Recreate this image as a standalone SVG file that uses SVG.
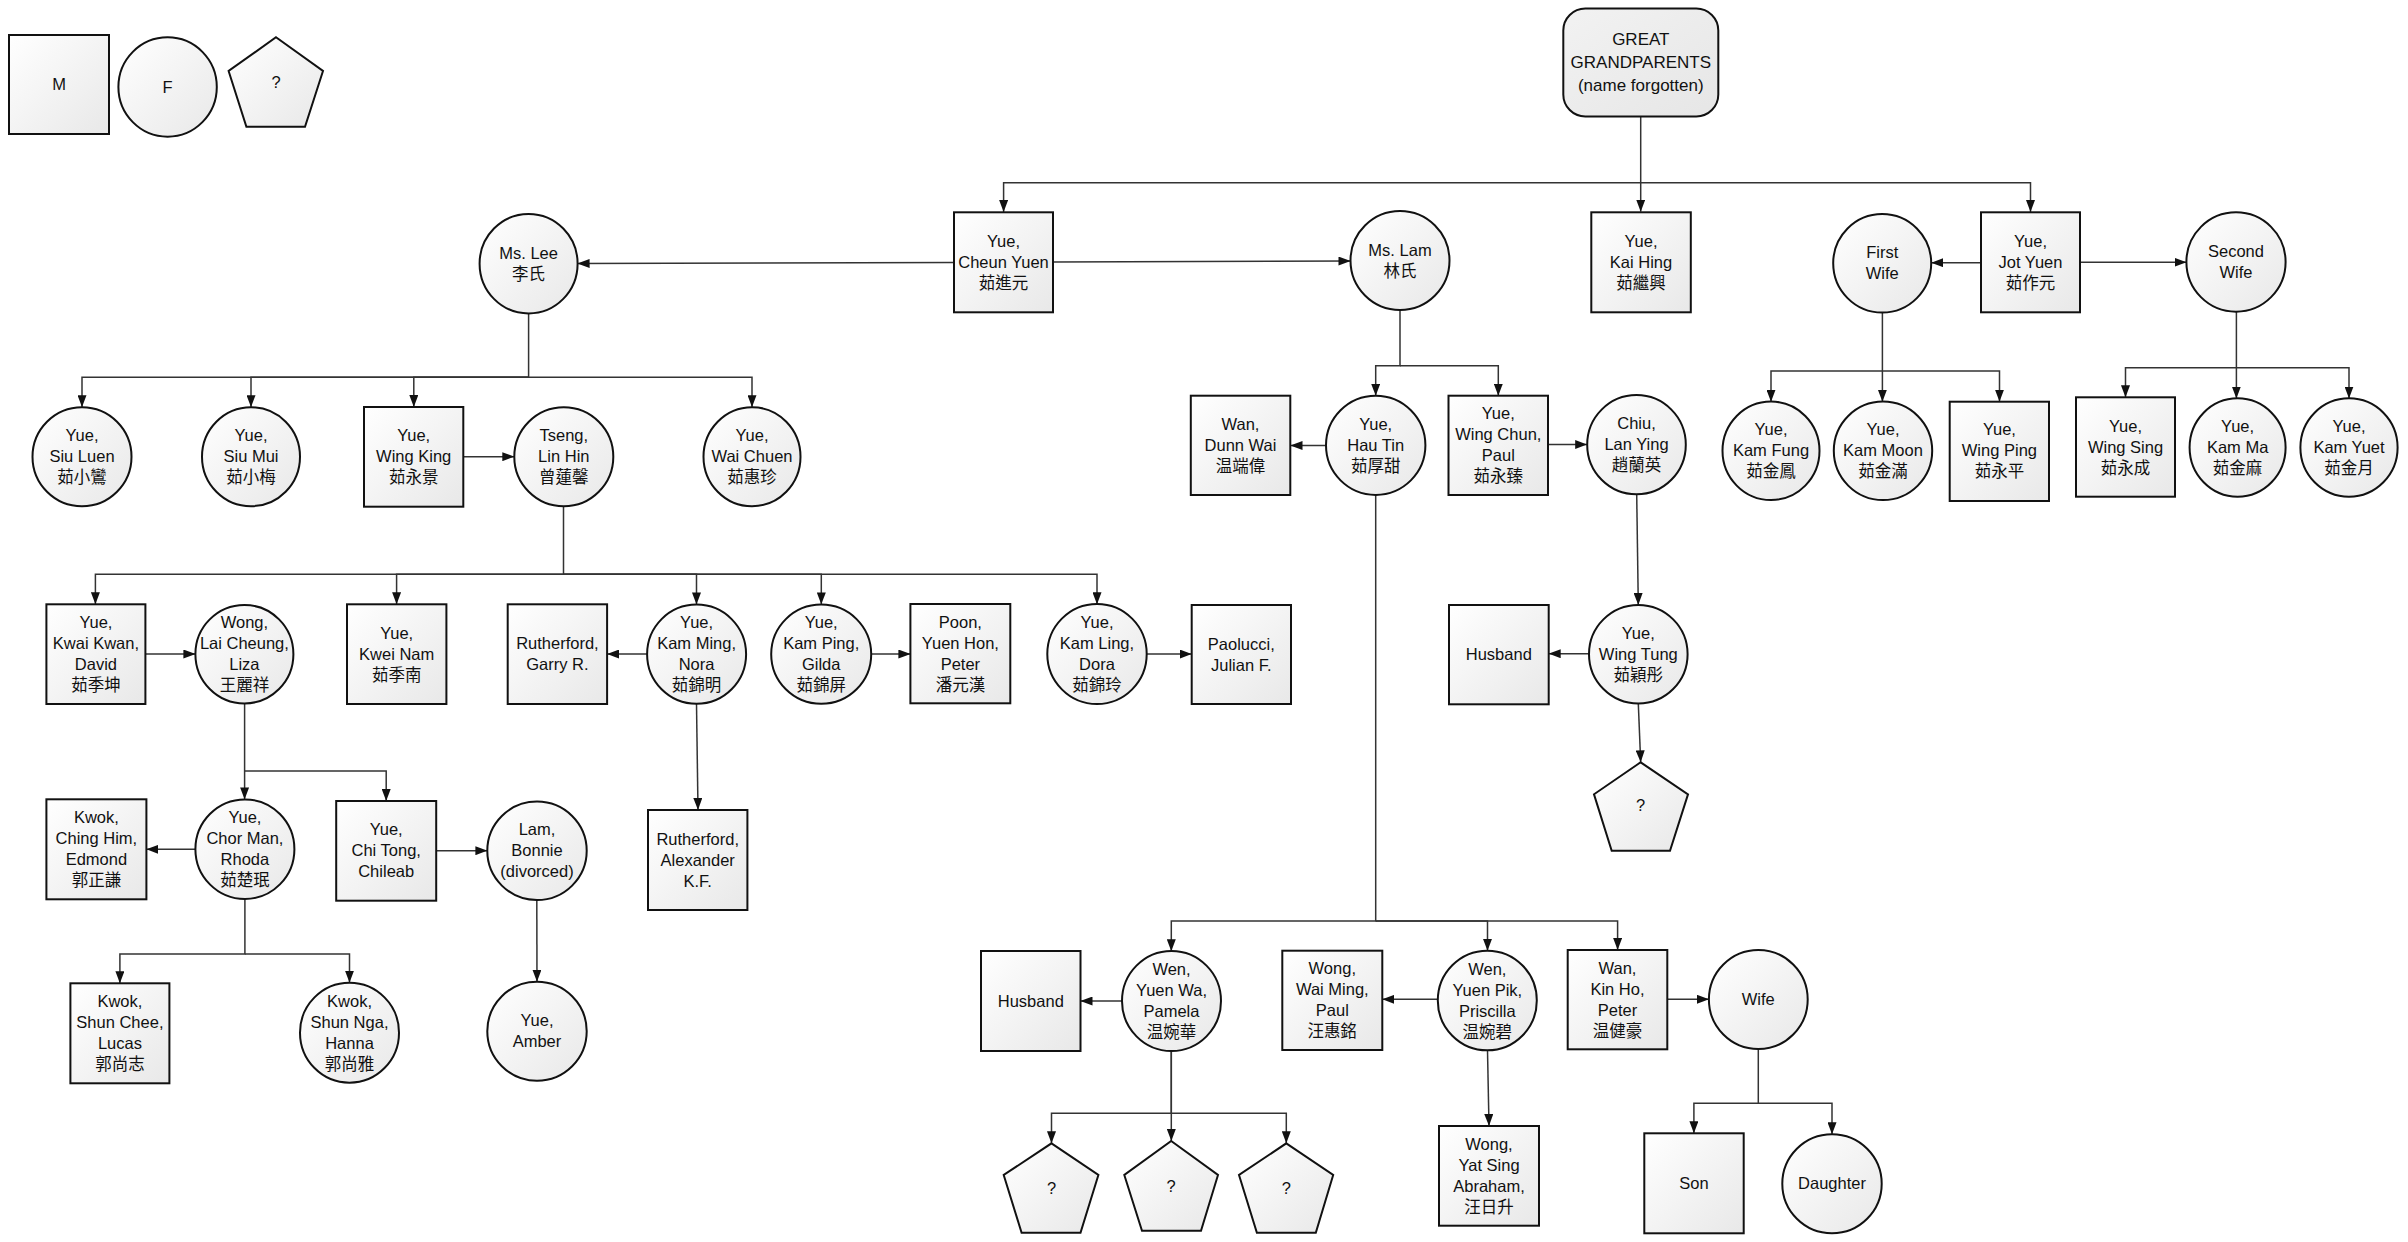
<svg xmlns="http://www.w3.org/2000/svg" width="2408" height="1242" viewBox="0 0 2408 1242">
<style>
.m,.f,.u,.g{fill:url(#gr);stroke:#111;stroke-width:2}
.g{fill:url(#gr2)}
text{font-family:"Liberation Sans",Arial,"Noto Sans CJK TC",sans-serif;font-size:16.5px;fill:#111;text-anchor:middle}
.big{font-size:17px}
.c path{fill:none;stroke:#333;stroke-width:1.5}
.c .a{marker-end:url(#ar)}
</style>
<defs>
<linearGradient id="gr" x1="0" y1="0" x2="1" y2="1"><stop offset="0" stop-color="#ffffff"/><stop offset="1" stop-color="#e8e8e8"/></linearGradient>
<linearGradient id="gr2" x1="0" y1="0" x2="1" y2="1"><stop offset="0" stop-color="#f2f2f2"/><stop offset="1" stop-color="#e6e6e6"/></linearGradient>
<marker id="ar" markerWidth="12" markerHeight="9" refX="12" refY="4.5" orient="auto" markerUnits="userSpaceOnUse"><path d="M0,0 L12,4.5 L0,9 z" fill="#111"/></marker>
</defs>
<rect width="2408" height="1242" fill="#fff"/>

<g class="c">
<path class="a" d="M1640.7,116.7 V211.7"/>
<path class="a" d="M1640.7,182.7 H1003.6 V212"/>
<path class="a" d="M1640.7,182.7 H2030.5 V212"/>
<path class="a" d="M954,262.5 L577.6,263.5"/>
<path class="a" d="M1053,262 L1350.5,261"/>
<path class="a" d="M1981,262.7 H1931.2"/>
<path class="a" d="M2080,262.3 H2186.5"/>
<path class="a" d="M528.6,312.7 V377.3 H82 V407.2"/>
<path class="a" d="M528.6,377.3 H251 V407.2"/>
<path class="a" d="M528.6,377.3 H413.8 V407"/>
<path class="a" d="M528.6,377.3 H752 V407.2"/>
<path class="a" d="M463,456.7 H514.3"/>
<path class="a" d="M1400,310 V365.7 H1375.7 V395.8"/>
<path class="a" d="M1400,365.7 H1498.3 V395.8"/>
<path class="a" d="M1326,445.5 H1290.5"/>
<path class="a" d="M1548,444.5 H1587.2"/>
<path class="a" d="M1882.4,312.6 V401.8"/>
<path class="a" d="M1882.4,371 H1771 V401.8"/>
<path class="a" d="M1882.4,371 H1999.5 V401.7"/>
<path class="a" d="M2236.4,311.7 V398.5"/>
<path class="a" d="M2236.4,367.7 H2125.5 V397.3"/>
<path class="a" d="M2236.4,367.7 H2349 V398.5"/>
<path class="a" d="M563.5,506 V574.3 H95.4 V604.3"/>
<path class="a" d="M563.5,574.3 H396.6 V604.3"/>
<path class="a" d="M563.5,574.3 H696.5 V604.4"/>
<path class="a" d="M563.5,574.3 H821.3 V604.4"/>
<path class="a" d="M563.5,574.3 H1097 V604.3"/>
<path class="a" d="M145.4,654 H195.4"/>
<path class="a" d="M647,654 H607.1"/>
<path class="a" d="M871.6,654 H910.4"/>
<path class="a" d="M1146.7,654 H1191.7"/>
<path class="a" d="M244.6,703.4 V799.4"/>
<path class="a" d="M244.6,771 H386.2 V801"/>
<path class="a" d="M195.4,849.3 H146.4"/>
<path class="a" d="M436.2,850.7 H487.4"/>
<path class="a" d="M696.5,703.8 L698,810"/>
<path class="a" d="M244.9,899 V954 H119.9 V983.3"/>
<path class="a" d="M244.9,954 H349.5 V982.7"/>
<path class="a" d="M536.8,900.6 L537,981.7"/>
<path class="a" d="M1636.7,494 L1638.3,605"/>
<path class="a" d="M1589,653.7 H1548.7"/>
<path class="a" d="M1638.3,703.4 L1640.7,762.3"/>
<path class="a" d="M1375.7,494.8 V921 H1171.3 V951.2"/>
<path class="a" d="M1375.7,921 H1487.5 V950.8"/>
<path class="a" d="M1375.7,921 H1617.6 V950"/>
<path class="a" d="M1122,1001 H1080.5"/>
<path class="a" d="M1437.8,999.3 H1382.3"/>
<path class="a" d="M1667.3,999.3 H1709"/>
<path class="a" d="M1171.3,1050.8 V1113.3 H1051.5 V1143.3"/>
<path class="a" d="M1171.3,1050.8 V1141"/>
<path class="a" d="M1171.3,1113.3 H1286.3 V1143.3"/>
<path class="a" d="M1487.5,1050.3 L1489,1126"/>
<path class="a" d="M1758.3,1049 V1103.3 H1693.9 V1133.3"/>
<path class="a" d="M1758.3,1103.3 H1832 V1134.3"/>
</g>

<g id="legend-m"><rect class="m" x="9" y="35" width="100" height="99"/><text x="59" y="90">M</text></g>
<g id="legend-f"><ellipse class="f" cx="167.6" cy="87" rx="49.2" ry="49.7"/><text x="167.6" y="92.5">F</text></g>
<g id="legend-u"><polygon class="u" points="276,37.3 323,71 305,126.7 246.4,126.7 228.6,71"/><text x="276" y="88">?</text></g>

<g id="great-grandparents"><rect class="g" x="1563.3" y="8.5" width="155" height="108" rx="22"/><text class="big" x="1640.8" y="45">GREAT</text><text class="big" x="1640.8" y="68">GRANDPARENTS</text><text class="big" x="1640.8" y="91">(name forgotten)</text></g>

<g id="cheun-yuen"><rect class="m" x="954" y="212.3" width="99" height="100"/><text x="1003.5" y="246.5">Yue,</text><text x="1003.5" y="267.5">Cheun Yuen</text><text x="1003.5" y="288.5">茹進元</text></g>
<g id="ms-lee"><ellipse class="f" cx="528.6" cy="263.7" rx="49" ry="49.7"/><text x="528.6" y="258.7">Ms. Lee</text><text x="528.6" y="279.7">李氏</text></g>
<g id="ms-lam"><ellipse class="f" cx="1400" cy="260.5" rx="49.5" ry="49.5"/><text x="1400" y="255.5">Ms. Lam</text><text x="1400" y="276.5">林氏</text></g>
<g id="kai-hing"><rect class="m" x="1591.3" y="212.3" width="99.5" height="100"/><text x="1641" y="246.5">Yue,</text><text x="1641" y="267.5">Kai Hing</text><text x="1641" y="288.5">茹繼興</text></g>
<g id="jot-yuen"><rect class="m" x="1981" y="212.3" width="99" height="100"/><text x="2030.5" y="246.8">Yue,</text><text x="2030.5" y="267.8">Jot Yuen</text><text x="2030.5" y="288.8">茹作元</text></g>
<g id="first-wife"><ellipse class="f" cx="1882.2" cy="263.3" rx="49" ry="49.3"/><text x="1882.2" y="258.3">First</text><text x="1882.2" y="279.3">Wife</text></g>
<g id="second-wife"><ellipse class="f" cx="2236" cy="262" rx="49.6" ry="49.7"/><text x="2236" y="257">Second</text><text x="2236" y="278">Wife</text></g>

<g id="siu-luen"><ellipse class="f" cx="82" cy="456.7" rx="49.5" ry="49.5"/><text x="82" y="441.2">Yue,</text><text x="82" y="462.2">Siu Luen</text><text x="82" y="483.2">茹小鸞</text></g>
<g id="siu-mui"><ellipse class="f" cx="251" cy="456.7" rx="49" ry="49.5"/><text x="251" y="441.2">Yue,</text><text x="251" y="462.2">Siu Mui</text><text x="251" y="483.2">茹小梅</text></g>
<g id="wing-king"><rect class="m" x="364" y="407" width="99.3" height="99.7"/><text x="413.7" y="441.2">Yue,</text><text x="413.7" y="462.2">Wing King</text><text x="413.7" y="483.2">茹永景</text></g>
<g id="tseng-lin-hin"><ellipse class="f" cx="563.8" cy="456.7" rx="49.5" ry="49.5"/><text x="563.8" y="441.2">Tseng,</text><text x="563.8" y="462.2">Lin Hin</text><text x="563.8" y="483.2">曾蓮馨</text></g>
<g id="wai-chuen"><ellipse class="f" cx="752" cy="456.7" rx="48.5" ry="49.5"/><text x="752" y="441.2">Yue,</text><text x="752" y="462.2">Wai Chuen</text><text x="752" y="483.2">茹惠珍</text></g>

<g id="dunn-wai"><rect class="m" x="1190.8" y="395.7" width="99.5" height="99.3"/><text x="1240.5" y="429.8">Wan,</text><text x="1240.5" y="450.8">Dunn Wai</text><text x="1240.5" y="471.8">温端偉</text></g>
<g id="hau-tin"><ellipse class="f" cx="1375.7" cy="445.3" rx="49.7" ry="49.6"/><text x="1375.7" y="429.8">Yue,</text><text x="1375.7" y="450.8">Hau Tin</text><text x="1375.7" y="471.8">茹厚甜</text></g>
<g id="wing-chun"><rect class="m" x="1448.5" y="395.7" width="99.5" height="99.3"/><text x="1498.3" y="419.3">Yue,</text><text x="1498.3" y="440.3">Wing Chun,</text><text x="1498.3" y="461.3">Paul</text><text x="1498.3" y="482.3">茹永臻</text></g>
<g id="chiu-lan-ying"><ellipse class="f" cx="1636.5" cy="444.7" rx="49.3" ry="49.6"/><text x="1636.5" y="429.2">Chiu,</text><text x="1636.5" y="450.2">Lan Ying</text><text x="1636.5" y="471.2">趙蘭英</text></g>

<g id="kam-fung"><ellipse class="f" cx="1771" cy="450.8" rx="48.5" ry="49.2"/><text x="1771" y="435.3">Yue,</text><text x="1771" y="456.3">Kam Fung</text><text x="1771" y="477.3">茹金鳳</text></g>
<g id="kam-moon"><ellipse class="f" cx="1883" cy="450.8" rx="49.2" ry="49.2"/><text x="1883" y="435.3">Yue,</text><text x="1883" y="456.3">Kam Moon</text><text x="1883" y="477.3">茹金滿</text></g>
<g id="wing-ping"><rect class="m" x="1949.7" y="401.7" width="99.3" height="99.3"/><text x="1999.4" y="435.3">Yue,</text><text x="1999.4" y="456.3">Wing Ping</text><text x="1999.4" y="477.3">茹永平</text></g>
<g id="wing-sing"><rect class="m" x="2076" y="397.3" width="99" height="99.4"/><text x="2125.5" y="431.5">Yue,</text><text x="2125.5" y="452.5">Wing Sing</text><text x="2125.5" y="473.5">茹永成</text></g>
<g id="kam-ma"><ellipse class="f" cx="2237.6" cy="447.5" rx="48" ry="49.2"/><text x="2237.6" y="432">Yue,</text><text x="2237.6" y="453">Kam Ma</text><text x="2237.6" y="474">茹金麻</text></g>
<g id="kam-yuet"><ellipse class="f" cx="2349" cy="447.5" rx="48.6" ry="49.2"/><text x="2349" y="432">Yue,</text><text x="2349" y="453">Kam Yuet</text><text x="2349" y="474">茹金月</text></g>

<g id="kwai-kwan"><rect class="m" x="46.4" y="604.3" width="99" height="99.7"/><text x="95.9" y="628.2">Yue,</text><text x="95.9" y="649.2">Kwai Kwan,</text><text x="95.9" y="670.2">David</text><text x="95.9" y="691.2">茹季坤</text></g>
<g id="wong-lai-cheung"><ellipse class="f" cx="244.4" cy="654.2" rx="49" ry="49.2"/><text x="244.4" y="628.2">Wong,</text><text x="244.4" y="649.2">Lai Cheung,</text><text x="244.4" y="670.2">Liza</text><text x="244.4" y="691.2">王麗祥</text></g>
<g id="kwei-nam"><rect class="m" x="347" y="604.3" width="99.4" height="99.7"/><text x="396.7" y="638.7">Yue,</text><text x="396.7" y="659.7">Kwei Nam</text><text x="396.7" y="680.7">茹季南</text></g>
<g id="garry"><rect class="m" x="507.7" y="604.3" width="99.4" height="99.7"/><text x="557.4" y="649.2">Rutherford,</text><text x="557.4" y="670.2">Garry R.</text></g>
<g id="kam-ming"><ellipse class="f" cx="696.6" cy="654.2" rx="49.5" ry="49.6"/><text x="696.6" y="628.2">Yue,</text><text x="696.6" y="649.2">Kam Ming,</text><text x="696.6" y="670.2">Nora</text><text x="696.6" y="691.2">茹錦明</text></g>
<g id="kam-ping"><ellipse class="f" cx="821.2" cy="654.2" rx="50" ry="49.6"/><text x="821.2" y="628.2">Yue,</text><text x="821.2" y="649.2">Kam Ping,</text><text x="821.2" y="670.2">Gilda</text><text x="821.2" y="691.2">茹錦屏</text></g>
<g id="poon"><rect class="m" x="910.4" y="604" width="99.9" height="99.3"/><text x="960.4" y="627.7">Poon,</text><text x="960.4" y="648.7">Yuen Hon,</text><text x="960.4" y="669.7">Peter</text><text x="960.4" y="690.7">潘元漢</text></g>
<g id="kam-ling"><ellipse class="f" cx="1097" cy="654" rx="49.7" ry="50"/><text x="1097" y="628">Yue,</text><text x="1097" y="649">Kam Ling,</text><text x="1097" y="670">Dora</text><text x="1097" y="691">茹錦玲</text></g>
<g id="paolucci"><rect class="m" x="1191.7" y="605" width="99.3" height="99"/><text x="1241.3" y="649.5">Paolucci,</text><text x="1241.3" y="670.5">Julian F.</text></g>

<g id="ching-him"><rect class="m" x="46.4" y="799.3" width="100" height="100"/><text x="96.4" y="823.3">Kwok,</text><text x="96.4" y="844.3">Ching Him,</text><text x="96.4" y="865.3">Edmond</text><text x="96.4" y="886.3">郭正謙</text></g>
<g id="chor-man"><ellipse class="f" cx="244.9" cy="849.2" rx="49.5" ry="49.8"/><text x="244.9" y="823.2">Yue,</text><text x="244.9" y="844.2">Chor Man,</text><text x="244.9" y="865.2">Rhoda</text><text x="244.9" y="886.2">茹楚珉</text></g>
<g id="chi-tong"><rect class="m" x="336.2" y="801" width="100" height="99.7"/><text x="386.2" y="835.3">Yue,</text><text x="386.2" y="856.3">Chi Tong,</text><text x="386.2" y="877.3">Chileab</text></g>
<g id="bonnie"><ellipse class="f" cx="537" cy="850.8" rx="49.7" ry="49.2"/><text x="537" y="835.3">Lam,</text><text x="537" y="856.3">Bonnie</text><text x="537" y="877.3">(divorced)</text></g>
<g id="alexander"><rect class="m" x="648" y="810" width="99.4" height="100"/><text x="697.7" y="844.5">Rutherford,</text><text x="697.7" y="865.5">Alexander</text><text x="697.7" y="886.5">K.F.</text></g>

<g id="shun-chee"><rect class="m" x="70.4" y="983.3" width="99" height="100"/><text x="119.9" y="1007.3">Kwok,</text><text x="119.9" y="1028.3">Shun Chee,</text><text x="119.9" y="1049.3">Lucas</text><text x="119.9" y="1070.3">郭尚志</text></g>
<g id="shun-nga"><ellipse class="f" cx="349.5" cy="1032.7" rx="49.5" ry="50"/><text x="349.5" y="1006.7">Kwok,</text><text x="349.5" y="1027.7">Shun Nga,</text><text x="349.5" y="1048.7">Hanna</text><text x="349.5" y="1069.7">郭尚雅</text></g>
<g id="amber"><ellipse class="f" cx="537" cy="1031.2" rx="49.7" ry="49.5"/><text x="537" y="1026.2">Yue,</text><text x="537" y="1047.2">Amber</text></g>

<g id="wing-tung"><ellipse class="f" cx="1638.3" cy="654.2" rx="49.3" ry="49.2"/><text x="1638.3" y="638.7">Yue,</text><text x="1638.3" y="659.7">Wing Tung</text><text x="1638.3" y="680.7">茹穎彤</text></g>
<g id="husband-1"><rect class="m" x="1449" y="605" width="99.7" height="99.3"/><text x="1498.8" y="660.1">Husband</text></g>
<g id="unknown-1"><polygon class="u" points="1640.7,762.3 1688,794.3 1670,850.7 1611.7,850.7 1594,794.3"/><text x="1640.7" y="811">?</text></g>

<g id="husband-2"><rect class="m" x="981" y="951" width="99.5" height="100"/><text x="1030.8" y="1006.5">Husband</text></g>
<g id="yuen-wa"><ellipse class="f" cx="1171.5" cy="1001" rx="49.5" ry="50"/><text x="1171.5" y="975">Wen,</text><text x="1171.5" y="996">Yuen Wa,</text><text x="1171.5" y="1017">Pamela</text><text x="1171.5" y="1038">温婉華</text></g>
<g id="wai-ming"><rect class="m" x="1282.3" y="950.7" width="100" height="99.3"/><text x="1332.3" y="974.3">Wong,</text><text x="1332.3" y="995.3">Wai Ming,</text><text x="1332.3" y="1016.3">Paul</text><text x="1332.3" y="1037.3">汪惠銘</text></g>
<g id="yuen-pik"><ellipse class="f" cx="1487.3" cy="1000.5" rx="49.5" ry="49.8"/><text x="1487.3" y="974.5">Wen,</text><text x="1487.3" y="995.5">Yuen Pik,</text><text x="1487.3" y="1016.5">Priscilla</text><text x="1487.3" y="1037.5">温婉碧</text></g>
<g id="kin-ho"><rect class="m" x="1567.7" y="950" width="99.6" height="99.3"/><text x="1617.5" y="973.6">Wan,</text><text x="1617.5" y="994.6">Kin Ho,</text><text x="1617.5" y="1015.6">Peter</text><text x="1617.5" y="1036.6">温健豪</text></g>
<g id="wife"><ellipse class="f" cx="1758.3" cy="999.5" rx="49.4" ry="49.5"/><text x="1758.3" y="1005">Wife</text></g>
<g id="unknown-2"><polygon class="u" points="1051.5,1143.3 1098.4,1175 1080.5,1232.7 1021.6,1232.7 1003.7,1175"/><text x="1051.5" y="1193.5">?</text></g>
<g id="unknown-3"><polygon class="u" points="1171.2,1141 1218,1175 1201,1230.7 1142,1230.7 1124.3,1175"/><text x="1171.2" y="1192">?</text></g>
<g id="unknown-4"><polygon class="u" points="1286.3,1143.3 1333.2,1175 1315.8,1232.7 1256.9,1232.7 1239,1175"/><text x="1286.3" y="1193.5">?</text></g>
<g id="yat-sing"><rect class="m" x="1439" y="1126" width="100" height="99.7"/><text x="1489" y="1149.8">Wong,</text><text x="1489" y="1170.8">Yat Sing</text><text x="1489" y="1191.8">Abraham,</text><text x="1489" y="1212.8">汪日升</text></g>
<g id="son"><rect class="m" x="1644.3" y="1133.3" width="99.4" height="100"/><text x="1694" y="1188.8">Son</text></g>
<g id="daughter"><ellipse class="f" cx="1832" cy="1183.8" rx="49.7" ry="49.5"/><text x="1832" y="1189.3">Daughter</text></g>
</svg>
